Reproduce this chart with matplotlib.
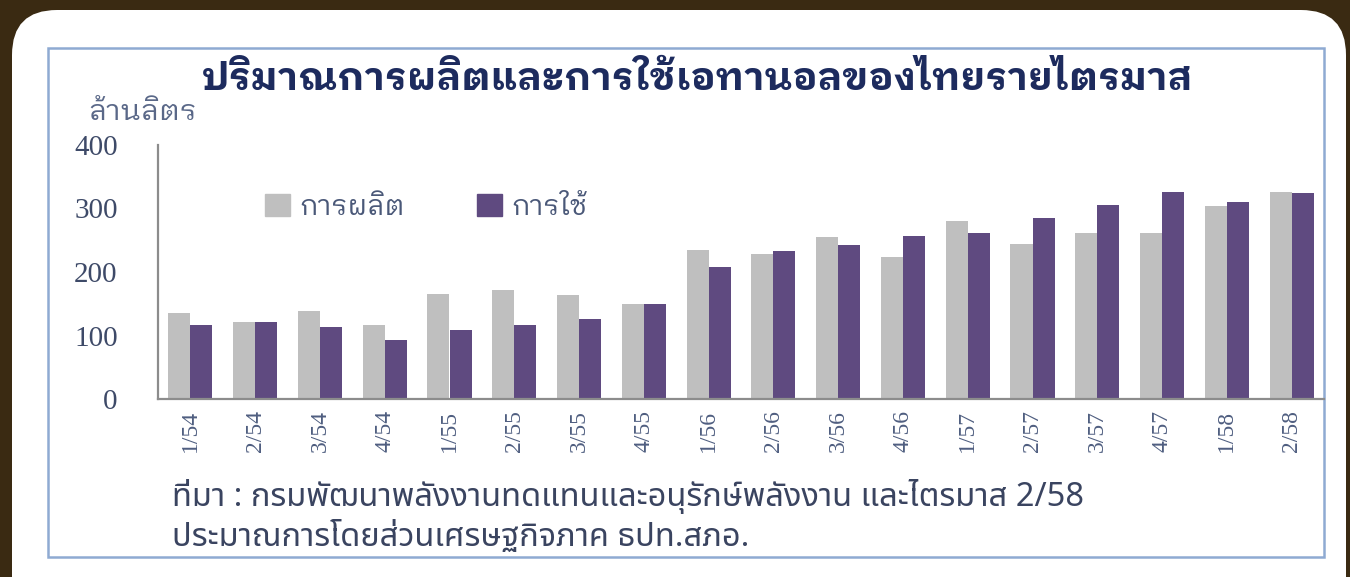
import matplotlib
matplotlib.use('Agg')
import matplotlib.pyplot as plt
from matplotlib.patches import FancyBboxPatch, Rectangle, Patch
import numpy as np

quarters = ['1/54', '2/54', '3/54', '4/54', '1/55', '2/55', '3/55', '4/55',
            '1/56', '2/56', '3/56', '4/56', '1/57', '2/57', '3/57', '4/57',
            '1/58', '2/58']
production = [136, 122, 139, 117, 165, 172, 163, 149,
              235, 228, 255, 224, 280, 244, 262, 262, 304, 326]
consumption = [116, 122, 113, 93, 109, 116, 126, 149,
               208, 233, 243, 256, 261, 285, 306, 326, 310, 324]
series_names = ['การผลิต', 'การใช้']
title = 'ปริมาณการผลิตและการใช้เอทานอลของไทยรายไตรมาส'
unit = 'ล้านลิตร'
source_lines = ['ที่มา : กรมพัฒนาพลังงานทดแทนและอนุรักษ์พลังงาน และไตรมาส 2/58',
                'ประมาณการโดยส่วนเศรษฐกิจภาค ธปท.สภอ.']

GRAY = '#BFBFBF'
PURPLE = '#5F4A80'
THAI_LOOP = ['IBM Plex Sans Thai Looped', 'DejaVu Sans']
THAI = ['Noto Sans Thai', 'DejaVu Sans']
SERIF = ['Liberation Serif', 'DejaVu Serif']

W, H = 1350, 577
fig = plt.figure(figsize=(W / 100, H / 100), dpi=100, facecolor='#3a2a12')

# white rounded card and the light blue frame (pixel coords)
fig.patches.append(FancyBboxPatch((12, -60), 1334, 627, boxstyle='round,pad=0,rounding_size=45',
                                  transform=None, facecolor='white', edgecolor='none', zorder=0))
fig.patches.append(Rectangle((48, 20), 1276, 509, transform=None, facecolor='none',
                             edgecolor='#8FAAD2', linewidth=1.8, zorder=1))

ax = fig.add_axes([158 / W, 178 / H, (1324 - 158) / W, (432 - 178) / H])
ax.set_zorder(3)
ax.set_facecolor('none')
x = np.arange(len(quarters))
bw = 0.34
ax.bar(x - bw / 2, production, bw, color=GRAY, label=series_names[0])
ax.bar(x + bw / 2, consumption, bw, color=PURPLE, label=series_names[1])

ax.set_xlim(-0.5, len(quarters) - 0.5)
ax.set_ylim(0, 400)
ax.set_yticks([0, 100, 200, 300, 400])
ax.set_xticks(x)
ax.set_xticklabels(quarters, rotation=90, family=SERIF, fontsize=17, color='#4F5E80')
for lab in ax.get_yticklabels():
    lab.set_family(SERIF)
ax.tick_params(axis='y', length=0, pad=29, labelsize=21, labelcolor='#3E4A68')
ax.tick_params(axis='x', length=0, pad=8)
for s in ['top', 'right']:
    ax.spines[s].set_visible(False)
for s in ['left', 'bottom']:
    ax.spines[s].set_color('#8C8C8C')
    ax.spines[s].set_linewidth(1.6)

handles = [Patch(color=GRAY), Patch(color=PURPLE)]
ax.legend(handles, series_names, ncol=2, frameon=False, loc='center left',
          bbox_to_anchor=(0.07, 0.755), handlelength=0.9, handleheight=0.8,
          handletextpad=0.35, columnspacing=2.6, prop={'family': THAI_LOOP, 'size': 20},
          labelcolor='#4A5878')

fig.text(698 / W, 1 - 80 / H, title, ha='center', va='center', fontsize=28,
         fontweight='bold', family=THAI_LOOP, color='#1D2B5E')
fig.text(88 / W, 1 - 112 / H, unit, ha='left', va='center', fontsize=21,
         family=THAI_LOOP, color='#5A6888')
fig.text(172 / W, 1 - 496 / H, source_lines[0], ha='left', va='center', fontsize=23.5,
         family=THAI, color='#3A4460')
fig.text(172 / W, 1 - 537 / H, source_lines[1], ha='left', va='center', fontsize=23.5,
         family=THAI, color='#3A4460')

fig.savefig('out.png', dpi=100, facecolor=fig.get_facecolor())
